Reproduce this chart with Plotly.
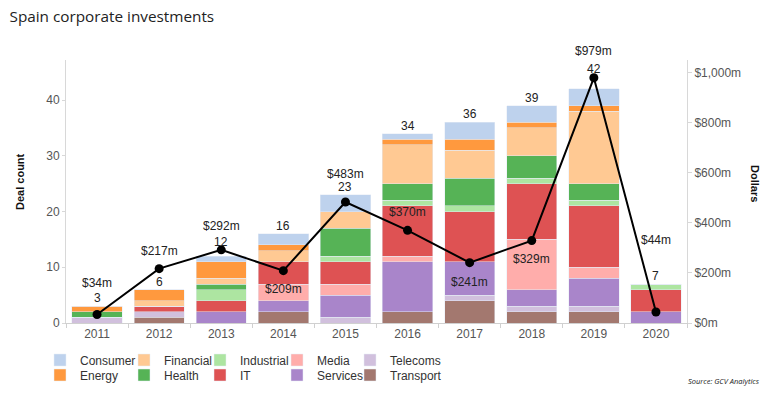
import plotly.graph_objects as go

# ---------------- data ----------------
years = [2011, 2012, 2013, 2014, 2015, 2016, 2017, 2018, 2019, 2020]
year_labels = ["2011", "2012", "2013", "2014", "2015", "2016", "2017", "2018", "2019", "2020"]

transport = [0, 1, 0, 2, 0, 2, 4, 2, 2, 0]
telecoms = [1, 1, 0, 0, 1, 0, 1, 1, 1, 0]
services = [0, 0, 2, 2, 4, 9, 6, 3, 5, 2]
media = [0, 0, 0, 3, 2, 1, 0, 9, 2, 0]
it = [0, 1, 2, 4, 4, 9, 9, 10, 11, 4]
industrial = [0, 0, 2, 0, 1, 1, 1, 1, 1, 1]
health = [1, 0, 1, 0, 5, 3, 5, 4, 3, 0]
financial = [0, 1, 1, 2, 3, 7, 5, 5, 13, 0]
energy = [1, 2, 3, 1, 0, 1, 2, 1, 1, 0]
consumer = [0, 0, 1, 2, 3, 1, 3, 3, 3, 0]

dollars_m = [34, 217, 292, 209, 483, 370, 241, 329, 979, 44]

# stacking order: bottom -> top
sectors = [
    ("Transport", transport),
    ("Telecoms", telecoms),
    ("Services", services),
    ("Media", media),
    ("IT", it),
    ("Industrial", industrial),
    ("Health", health),
    ("Financial", financial),
    ("Energy", energy),
    ("Consumer", consumer),
]

# ---------------- styles ----------------
colors = {
    "Consumer": "#aec7e8",
    "Energy": "#ff7f0e",
    "Financial": "#ffbb78",
    "Health": "#2ca02c",
    "Industrial": "#98df8a",
    "IT": "#d62728",
    "Media": "#ff9896",
    "Services": "#9467bd",
    "Telecoms": "#c5b0d5",
    "Transport": "#8c564b",
}
# legend grid: (text start x, row centre y) in screenshot pixels
legend_cols_x = [80, 164, 240, 317, 390]
legend_rows_y = [360, 375]
legend_grid = [["Consumer", "Financial", "Industrial", "Media", "Telecoms"],
               ["Energy", "Health", "IT", "Services", "Transport"]]

count_shift = [8, 8, 14, 8, 8, 8, 8, 8, 20, 8]
dollar_shift = [31, 18, 24, -18, 28, 18, -19, -18, 27, 72]

# page has an 8px body margin -> figure is offset by 8px in the screenshot
OFF = 8
W, H = 768 - OFF, 393 - OFF
PL, PT, PR, PB = 66, 60, 687, 323          # plot area in screenshot pixels
L, T, R, B = PL - OFF, PT - OFF, 768 - PR, 393 - PB
PW, PH = PR - PL, PB - PT


def px(sx):
    return (sx - PL) / PW


def py(sy):
    return (PB - sy) / PH


FONT = "Arial"


def hex_rgba(h, a):
    h = h.lstrip("#")
    return "rgba(%d,%d,%d,%.2f)" % (int(h[0:2], 16), int(h[2:4], 16), int(h[4:6], 16), a)


fig = go.Figure()

legend_layouts = {}
n = 0
for name, vals in sectors:
    n += 1
    lg = "legend" if n == 1 else "legend%d" % n
    fig.add_trace(go.Bar(
        x=years, y=vals, name=name, legend=lg,
        marker=dict(color=hex_rgba(colors[name], 0.8)),
    ))
    r = 0 if name in legend_grid[0] else 1
    c = legend_grid[r].index(name)
    legend_layouts[lg] = dict(
        orientation="h", xanchor="left", yanchor="middle",
        x=px(legend_cols_x[c] - 40), y=py(legend_rows_y[r]),
        bgcolor="rgba(0,0,0,0)", borderwidth=0, itemwidth=30,
        font=dict(family=FONT, size=12, color="#333333"),
    )

fig.add_trace(go.Scatter(
    x=years, y=dollars_m, yaxis="y2", mode="lines+markers",
    line=dict(color="#000000", width=2), marker=dict(color="#000000", size=9),
    showlegend=False, name="Dollars",
))

totals = [sum(v[k] for _, v in sectors) for k in range(len(years))]

annotations = []
for k, yr in enumerate(years):
    annotations.append(dict(
        x=yr, y=totals[k], xref="x", yref="y", text=str(totals[k]),
        showarrow=False, yshift=count_shift[k], yanchor="middle", xanchor="center",
        font=dict(family=FONT, size=12, color="#222222"),
    ))
    annotations.append(dict(
        x=yr, y=dollars_m[k], xref="x", yref="y2", text="$%dm" % dollars_m[k],
        showarrow=False, yshift=dollar_shift[k], yanchor="middle", xanchor="center",
        font=dict(family=FONT, size=12, color="#222222"),
    ))

annotations += [
    dict(x=px(20), y=py(182), xref="paper", yref="paper", xanchor="center", yanchor="middle",
         text="<b>Deal count</b>", textangle=-90, showarrow=False,
         font=dict(family=FONT, size=11, color="#111111")),
    dict(x=px(755), y=py(183), xref="paper", yref="paper", xanchor="center", yanchor="middle",
         text="<b>Dollars</b>", textangle=90, showarrow=False,
         font=dict(family=FONT, size=11, color="#111111")),
    dict(x=px(762), y=py(381), xref="paper", yref="paper", xanchor="right", yanchor="middle",
         text="<i>Source: GCV Analytics</i>", showarrow=False,
         font=dict(family="Open Sans", size=7.5, color="#222222")),
]

boundaries = [y - 0.5 for y in years] + [years[-1] + 0.5]

fig.update_layout(
    width=W, height=H,
    margin=dict(l=L, r=R, t=T, b=B, autoexpand=False),
    paper_bgcolor="white", plot_bgcolor="white",
    barmode="stack", bargap=0.19,
    title=dict(text="Spain corporate investments", xref="container", yref="container",
               x=1.5 / W, xanchor="left", y=1 - 3 / H, yanchor="top", pad=dict(t=0, l=0),
               font=dict(family="Open Sans", size=15.3, color="#222222")),
    xaxis=dict(range=[boundaries[0], boundaries[-1]], tickmode="array",
               tickvals=years, ticktext=year_labels, ticks="",
               minor=dict(tickmode="array", tickvals=boundaries, ticks="outside",
                          ticklen=4, tickcolor="#d0d0d0", showgrid=False),
               showline=True, linecolor="#d0d0d0", linewidth=1,
               showgrid=False, zeroline=False,
               tickfont=dict(family=FONT, size=12, color="#555555")),
    yaxis=dict(range=[0, 47.2], tickvals=[0, 10, 20, 30, 40], showgrid=False,
               zeroline=False, showline=True, linecolor="#d8d8d8", linewidth=1,
               ticks="outside", ticklen=3, tickcolor="#d8d8d8",
               tickfont=dict(family=FONT, size=12, color="#555555")),
    yaxis2=dict(range=[0, 1050], tickvals=[0, 200, 400, 600, 800, 1000],
                ticktext=["$0m", "$200m", "$400m", "$600m", "$800m", "$1,000m"],
                overlaying="y",
                side="right", showgrid=False, zeroline=False, showline=True,
                linecolor="#d8d8d8", linewidth=1, ticks="outside", ticklen=4,
                tickcolor="#d8d8d8", tickfont=dict(family=FONT, size=12, color="#555555")),
    annotations=annotations,
    **legend_layouts,
)

fig.write_html("out.html")
